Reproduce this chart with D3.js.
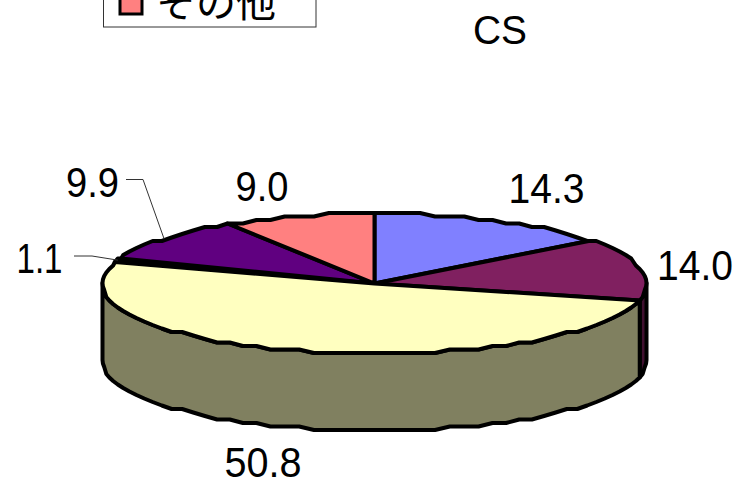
<!DOCTYPE html>
<html><head><meta charset="utf-8">
<script src="https://cdn.jsdelivr.net/npm/d3@7"></script>
<style>html,body{margin:0;padding:0;background:#fff}svg{display:block}
text{font-family:"Liberation Sans",Arial,sans-serif;fill:#000}</style></head>
<body><svg id="c" width="740" height="482"></svg>
<script>
const categories = ["a","b","c","d","e","その他"];
const values = [14.3,14.0,50.8,1.1,9.9,9.0];
const topColors = ["#8080FF","#802060","#FFFFC0","#000000","#600080","#FF8080"];
const sideColors = ["#404080","#401030","#808060","#000000","#300040","#804040"];
const valueLabels = ["14.3","14.0","50.8","1.1","9.9","9.0"];
const legendItem = "その他";
const title = "CS";

const W=740,H=482, cx=374.5, cy=283.5, rx=272, ry=70.5, depth=77;
const svg=d3.select("#c");
const arcs=d3.pie().sort(null).value(d=>d)(values);
const sx=d3.scaleLinear().domain([-1,1]).range([cx-rx,cx+rx]);
const sy=d3.scaleLinear().domain([-1,1]).range([cy-ry,cy+ry]);
// Stepped rim, like the low-resolution polygon of the original
const snapY=v=>Math.round((v-sy(-1))/3.5)*3.5+sy(-1);
const rim=(t,dz=0)=>[sx(Math.sin(t)), snapY(sy(-Math.cos(t)))+dz];
const STEP=Math.PI/56;
const rimPts=(a0,a1,dz=0)=>{
  const ts=[a0];
  for(let k=Math.floor(a0/STEP)+1;k*STEP<a1-1e-6;k++) if(k*STEP>a0+1e-6) ts.push(k*STEP);
  ts.push(a1);
  return ts.map(t=>rim(t,dz));
};
const path=d3.line();
const STROKE=4;

arcs.forEach((a,i)=>{
  const a0=Math.max(a.startAngle,Math.PI/2), a1=Math.min(a.endAngle,Math.PI*1.5);
  if(a1<=a0) return;
  const pts=rimPts(a0,a1).concat(rimPts(a0,a1,depth).reverse());
  svg.append("path").attr("d",path(pts)+"Z").attr("fill",sideColors[i])
    .attr("stroke","#000").attr("stroke-width",STROKE).attr("stroke-linejoin","round");
});
[0,1,3,4,5,2].forEach(i=>{
  const a=arcs[i];
  const pts=[[sx(0),sy(0)]].concat(rimPts(a.startAngle,a.endAngle));
  svg.append("path").attr("d",path(pts)+"Z").attr("fill",topColors[i])
    .attr("stroke","#000").attr("stroke-width",STROKE).attr("stroke-linejoin","round");
});

// value labels: [anchor x, baseline y, fitted width]
const labelPos=[[546.5,203,76],[695,280,76],[263,477,77],[39.5,273,46],[92.5,197,53],[262,201,53]];
valueLabels.forEach((t,i)=>{
  svg.append("text").attr("x",labelPos[i][0]).attr("y",labelPos[i][1])
    .attr("text-anchor","middle").attr("font-size",42)
    .attr("textLength",labelPos[i][2]).attr("lengthAdjust","spacingAndGlyphs").text(t);
});
const leader=(i,elbow)=>{
  const a=arcs[i], m=(a.startAngle+a.endAngle)/2;
  const p=[sx(Math.sin(m)),sy(-Math.cos(m))];
  svg.append("path").attr("fill","none").attr("stroke","#333").attr("stroke-width",1)
    .attr("d",path(elbow.concat([p])));
};
leader(3,[[74,256],[92,256]]);
leader(4,[[126,179.5],[143,179.5]]);

svg.append("text").attr("x",500).attr("y",44).attr("text-anchor","middle").attr("font-size",40)
  .attr("textLength",54).attr("lengthAdjust","spacingAndGlyphs").text(title);

svg.append("rect").attr("x",103.5).attr("y",-40).attr("width",212.5).attr("height",67)
  .attr("fill","#fff").attr("stroke","#333").attr("stroke-width",1);
svg.append("rect").attr("x",120).attr("y",-10).attr("width",22).attr("height",24)
  .attr("fill",topColors[5]).attr("stroke","#000").attr("stroke-width",3);
svg.append("text").attr("x",156).attr("y",17).attr("font-size",40)
  .style("font-family",'"Noto Sans CJK JP"').text(legendItem);
</script></body></html>
